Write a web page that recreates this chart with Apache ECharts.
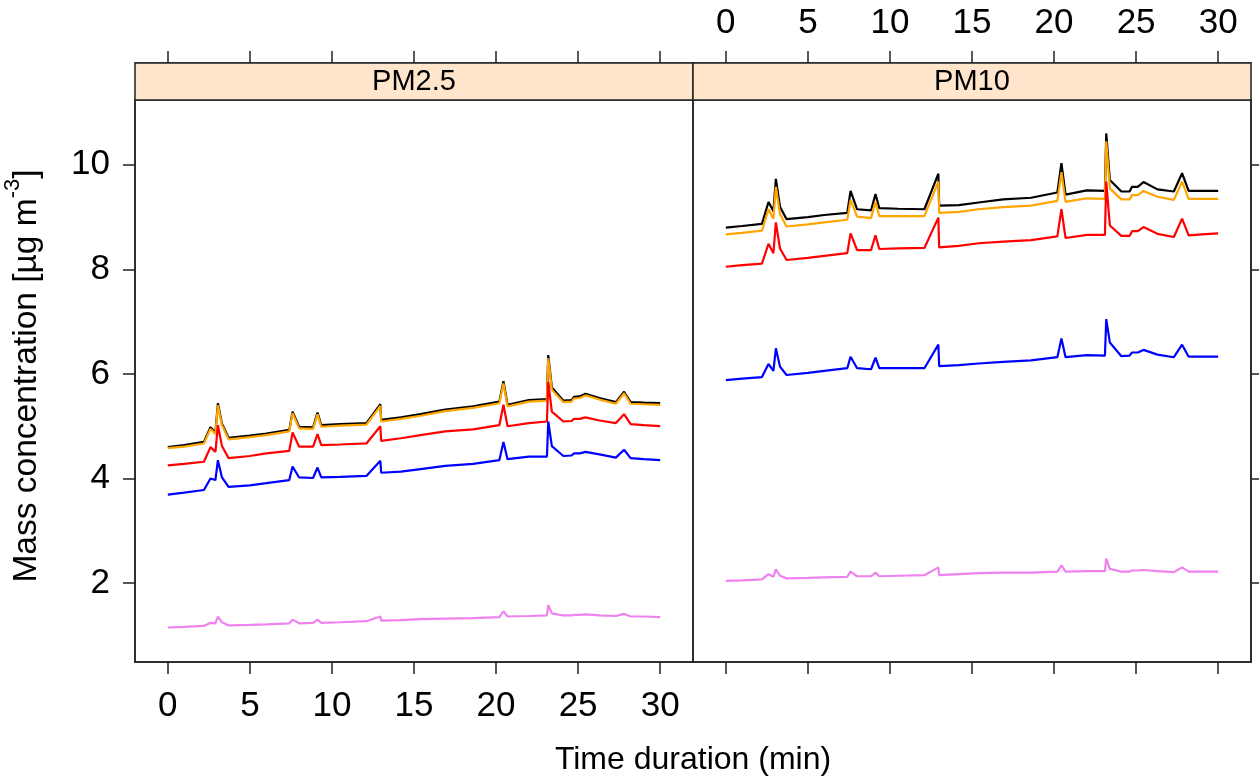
<!DOCTYPE html>
<html><head><meta charset="utf-8">
<script src="https://cdn.jsdelivr.net/npm/echarts@6/dist/echarts.min.js"></script>
<style>html,body{margin:0;padding:0;background:#fff}#c{width:1259px;height:778px}</style>
</head><body><div id="c"></div><script>
// ---- data ----
const panels = ['PM2.5', 'PM10'];
const time = [0, 1, 2.2, 2.6, 2.9, 3.05, 3.3, 3.7, 5, 6, 7.4, 7.6, 8.0, 8.85, 9.12, 9.35, 10.5, 12.1, 12.95, 13.0, 14.2, 15.4, 16.9, 18.6, 20.2, 20.45, 20.7, 22.0, 23.1, 23.18, 23.4, 24.1, 24.6, 24.75, 25.1, 25.45, 26.3, 27.3, 27.8, 28.2, 29, 30];
const xTicks = [0, 5, 10, 15, 20, 25, 30];
const yTicks = [2, 4, 6, 8, 10];

// PM2.5 panel
const pm25Black  = [4.60,4.64,4.70,4.98,4.88,5.44,5.05,4.78,4.82,4.86,4.93,5.28,4.99,4.98,5.26,5.02,5.04,5.06,5.42,5.12,5.17,5.23,5.32,5.38,5.47,5.86,5.41,5.50,5.52,6.36,5.74,5.49,5.50,5.56,5.57,5.62,5.54,5.46,5.66,5.46,5.45,5.44];
const pm25Orange = [4.58,4.61,4.67,4.95,4.85,5.40,5.02,4.75,4.79,4.83,4.90,5.25,4.96,4.95,5.23,4.99,5.01,5.03,5.39,5.09,5.14,5.20,5.29,5.35,5.44,5.82,5.38,5.47,5.49,6.30,5.70,5.46,5.47,5.53,5.54,5.59,5.51,5.43,5.63,5.43,5.42,5.41];
const pm25Red    = [4.25,4.28,4.32,4.60,4.51,5.02,4.62,4.39,4.43,4.48,4.53,4.88,4.61,4.61,4.85,4.64,4.65,4.67,5.00,4.72,4.77,4.83,4.90,4.94,5.02,5.41,5.00,5.06,5.09,5.85,5.28,5.09,5.10,5.14,5.14,5.17,5.11,5.06,5.23,5.04,5.02,5.00];
const pm25Blue   = [3.69,3.73,3.78,4.00,3.97,4.35,4.02,3.84,3.87,3.91,3.97,4.23,4.02,4.01,4.21,4.02,4.03,4.05,4.34,4.11,4.13,4.18,4.24,4.28,4.35,4.70,4.37,4.42,4.42,5.09,4.62,4.43,4.44,4.48,4.48,4.51,4.46,4.40,4.55,4.39,4.37,4.35];
const pm25Violet = [1.15,1.16,1.18,1.24,1.23,1.36,1.25,1.19,1.20,1.21,1.23,1.30,1.23,1.24,1.30,1.24,1.25,1.27,1.36,1.28,1.29,1.31,1.32,1.33,1.35,1.46,1.36,1.37,1.38,1.58,1.42,1.38,1.38,1.39,1.39,1.40,1.38,1.37,1.41,1.36,1.36,1.35];

// PM10 panel
const pm10Black  = [8.80,8.83,8.87,9.29,9.11,9.73,9.20,8.96,9.00,9.04,9.08,9.50,9.15,9.13,9.44,9.17,9.16,9.15,9.83,9.22,9.23,9.28,9.34,9.37,9.47,10.03,9.43,9.51,9.50,10.60,9.71,9.49,9.49,9.58,9.58,9.67,9.53,9.49,9.84,9.50,9.50,9.50];
const pm10Orange = [8.67,8.70,8.74,9.15,8.97,9.58,9.06,8.82,8.86,8.90,8.95,9.33,9.01,8.98,9.30,9.02,9.02,9.02,9.68,9.08,9.10,9.15,9.19,9.22,9.31,9.86,9.29,9.36,9.35,10.45,9.55,9.34,9.34,9.42,9.42,9.50,9.39,9.33,9.68,9.35,9.35,9.35];
const pm10Red    = [8.05,8.08,8.11,8.49,8.31,8.90,8.40,8.18,8.22,8.26,8.31,8.69,8.37,8.37,8.65,8.39,8.40,8.41,8.99,8.42,8.45,8.50,8.53,8.56,8.63,9.15,8.60,8.66,8.66,9.68,8.84,8.64,8.64,8.73,8.73,8.81,8.68,8.62,8.97,8.65,8.67,8.69];
const pm10Blue   = [5.88,5.91,5.94,6.19,6.06,6.49,6.14,5.98,6.02,6.06,6.11,6.33,6.11,6.09,6.31,6.11,6.11,6.11,6.56,6.15,6.17,6.20,6.23,6.26,6.32,6.68,6.32,6.36,6.35,7.05,6.60,6.34,6.35,6.41,6.41,6.46,6.37,6.32,6.56,6.33,6.33,6.33];
const pm10Violet = [2.04,2.05,2.07,2.17,2.12,2.26,2.14,2.09,2.10,2.11,2.12,2.22,2.13,2.13,2.20,2.13,2.14,2.15,2.30,2.15,2.17,2.19,2.20,2.20,2.22,2.34,2.22,2.23,2.23,2.47,2.27,2.22,2.22,2.24,2.24,2.25,2.23,2.21,2.30,2.22,2.22,2.22];

const colors = ['#000000', '#FFA500', '#FF0000', '#0000FF', '#EE82EE'];
const panelData = [
  [pm25Black, pm25Orange, pm25Red, pm25Blue, pm25Violet],
  [pm10Black, pm10Orange, pm10Red, pm10Blue, pm10Violet]
];

// ---- chart ----
const FONT = 'Liberation Sans, Arial, Helvetica, sans-serif';
const AX = '#222222';
const X_MIN = -2, X_MAX = 32, Y_MIN = 0.49, Y_MAX = 11.24;
const TICK_FS = 35;

function xAxis(grid, position, labels, offset, margin) {
  return {
    type: 'value', gridIndex: grid, position: position, offset: offset || 0,
    min: X_MIN, max: X_MAX,
    splitLine: { show: false },
    axisLine: { show: true, onZero: false, lineStyle: { color: AX, width: 1.5 } },
    axisTick: { show: true, length: 12, inside: false, customValues: xTicks, lineStyle: { color: AX, width: 1.5 } },
    axisLabel: { show: labels, customValues: xTicks, margin: margin, fontSize: TICK_FS, color: '#000', fontFamily: FONT }
  };
}
function yAxis(grid, position, labels) {
  return {
    type: 'value', gridIndex: grid, position: position,
    min: Y_MIN, max: Y_MAX,
    splitLine: { show: false },
    axisLine: { show: true, onZero: false, lineStyle: { color: AX, width: 1.5 } },
    axisTick: { show: true, length: 12, inside: false, customValues: yTicks, lineStyle: { color: AX, width: 1.5 } },
    axisLabel: { show: labels, customValues: yTicks, margin: 25, fontSize: TICK_FS, color: '#000', fontFamily: FONT }
  };
}

const series = [];
panelData.forEach((arrs, p) => {
  arrs.forEach((vals, i) => {
    series.push({
      type: 'line', name: panels[p] + '-' + i,
      xAxisIndex: p === 0 ? 0 : 2, yAxisIndex: p,
      data: time.map((t, k) => [t, vals[k]]),
      showSymbol: false, symbol: 'none',
      lineStyle: { color: colors[i], width: 2.2 },
      z: 2 + i, silent: true
    });
  });
});

const stripGraphics = [];
[[135, panels[0]], [693, panels[1]]].forEach(([x, label]) => {
  stripGraphics.push({
    type: 'rect', shape: { x: x, y: 63, width: 558, height: 37 },
    style: { fill: '#FFE5CC', stroke: AX, lineWidth: 1.5 }, z: 10
  });
  stripGraphics.push({
    type: 'text', x: x + 279, y: 82, z: 11,
    style: { text: label, fontSize: 29, fontFamily: FONT, fill: '#000', align: 'center', verticalAlign: 'middle' }
  });
});

const option = {
  animation: false,
  backgroundColor: '#ffffff',
  grid: [
    { left: 135, top: 100, width: 558, height: 562, show: true, borderColor: AX, borderWidth: 1.5, containLabel: false },
    { left: 693, top: 100, width: 558, height: 562, show: true, borderColor: AX, borderWidth: 1.5, containLabel: false }
  ],
  xAxis: [
    xAxis(0, 'bottom', true, 0, 27),
    xAxis(0, 'top', false, 37, 20),
    xAxis(1, 'bottom', false, 0, 27),
    xAxis(1, 'top', true, 37, 22)
  ],
  yAxis: [
    yAxis(0, 'left', true),
    yAxis(1, 'right', false)
  ],
  series: series,
  graphic: stripGraphics.concat([
    {
      type: 'text', x: 693, y: 760, z: 11,
      style: { text: 'Time duration (min)', fontSize: 32, fontFamily: FONT, fill: '#000', align: 'center', verticalAlign: 'middle' }
    },
    {
      type: 'text', x: 23, y: 376, rotation: Math.PI / 2, z: 11,
      style: {
        text: '{a|Mass concentration [µg m}{b|-3}{a|]}',
        fontFamily: FONT, fill: '#000', align: 'center', verticalAlign: 'middle',
        rich: {
          a: { fontSize: 33.5, fontFamily: FONT, lineHeight: 42, verticalAlign: 'bottom' },
          b: { fontSize: 22, fontFamily: FONT, lineHeight: 42, verticalAlign: 'top' }
        }
      }
    }
  ])
};

const chart = echarts.init(document.getElementById('c'), null, { renderer: 'canvas' });
chart.setOption(option);
</script></body></html>
